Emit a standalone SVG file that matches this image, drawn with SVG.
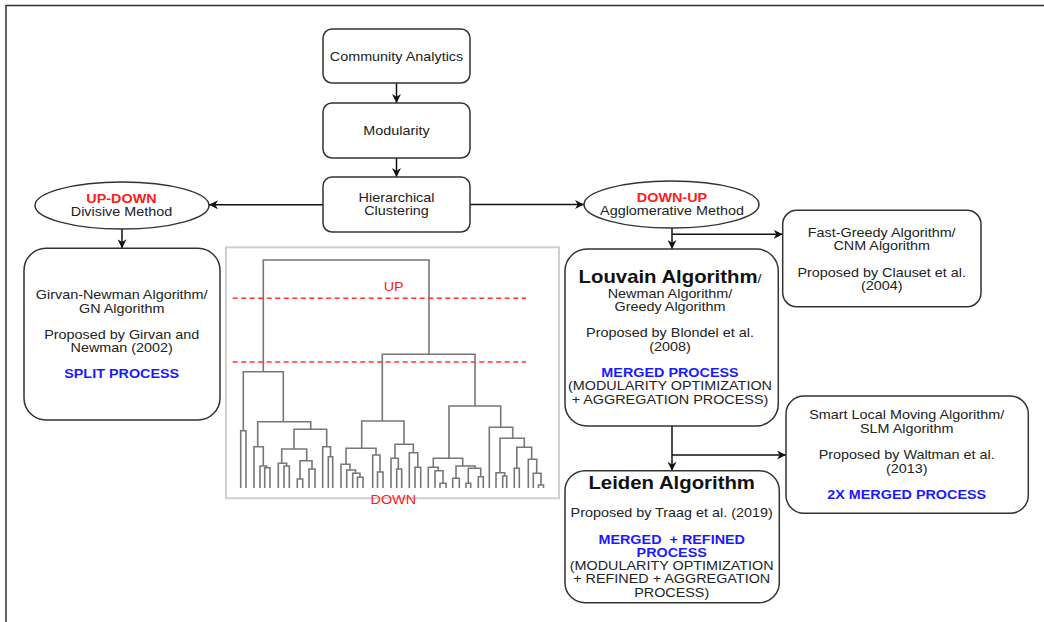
<svg xmlns="http://www.w3.org/2000/svg" width="1044" height="622" viewBox="0 0 1044 622">
<defs>
<marker id="ah" viewBox="0 0 10 10" refX="10" refY="5" markerWidth="9" markerHeight="9" markerUnits="userSpaceOnUse" orient="auto">
<path d="M0,0 L10,5 L0,10 L3,5 z" fill="#111"/>
</marker>
<style>
.box{fill:#fff;stroke:#333;stroke-width:1.5}
.con{fill:none;stroke:#111;stroke-width:1.5}
.t{font-family:"Liberation Sans",Arial,sans-serif;font-size:12.5px;fill:#222;text-anchor:middle}
.b{font-weight:bold}
.red{fill:#ff1a1a}
.blue{fill:#1a1aff}
.pre{white-space:pre}
.title{font-size:17.7px;font-weight:bold;fill:#111}
.dend{fill:none;stroke:#777;stroke-width:1.6}
.cut{fill:none;stroke:#ff3333;stroke-width:1.5;stroke-dasharray:5,3.5}
</style>
</defs>
<rect width="1044" height="622" fill="#fff"/>
<rect x="6" y="5.5" width="1100" height="700" fill="none" stroke="#333" stroke-width="1.5"/>

<g id="connectors">
<path class="con" d="M396.5 83 V103" marker-end="url(#ah)"/>
<path class="con" d="M396.5 158 V177" marker-end="url(#ah)"/>
<path class="con" d="M323 204.8 H209" marker-end="url(#ah)"/>
<path class="con" d="M470 204.5 H584" marker-end="url(#ah)"/>
<path class="con" d="M122 229 V248.3" marker-end="url(#ah)"/>
<path class="con" d="M672 228 V249" marker-end="url(#ah)"/>
<path class="con" d="M672 234.3 H782.7" marker-end="url(#ah)"/>
<path class="con" d="M672 426 V470.7" marker-end="url(#ah)"/>
<path class="con" d="M672 455 H786" marker-end="url(#ah)"/>
</g>

<g id="community-analytics">
<rect class="box" x="323" y="29" width="147" height="54" rx="9"/>
<text class="t" transform="translate(396.5,0) scale(1.15,1)"><tspan x="0" y="61.2">Community Analytics</tspan></text>
</g>
<g id="modularity">
<rect class="box" x="323" y="103" width="147" height="55" rx="9"/>
<text class="t" transform="translate(396.5,0) scale(1.15,1)"><tspan x="0" y="135.2">Modularity</tspan></text>
</g>
<g id="hierarchical-clustering">
<rect class="box" x="323" y="177" width="147" height="55" rx="9"/>
<text class="t" transform="translate(396.5,0) scale(1.15,1)"><tspan x="0" y="202.2">Hierarchical</tspan><tspan x="0" y="215.5">Clustering</tspan></text>
</g>

<g id="up-down">
<ellipse class="box" cx="122" cy="205.5" rx="87" ry="23.5"/>
<text class="t" transform="translate(121.5,0) scale(1.15,1)"><tspan x="0" y="203.2" class="b red">UP-DOWN</tspan><tspan x="0" y="215.8">Divisive Method</tspan></text>
</g>
<g id="down-up">
<ellipse class="box" cx="671.5" cy="204.5" rx="87.5" ry="23.5"/>
<text class="t" transform="translate(672,0) scale(1.15,1)"><tspan x="0" y="202.2" class="b red">DOWN-UP</tspan><tspan x="0" y="215.5">Agglomerative Method</tspan></text>
</g>

<g id="girvan-newman">
<rect class="box" x="24" y="248.3" width="196" height="171.7" rx="22"/>
<text class="t" transform="translate(121.7,0) scale(1.15,1)"><tspan x="0" y="298.8">Girvan-Newman Algorithm/</tspan><tspan x="0" y="312.8">GN Algorithm</tspan><tspan x="0" y="338.8">Proposed by Girvan and</tspan><tspan x="0" y="352.2">Newman (2002)</tspan><tspan x="0" y="378.5" class="b blue">SPLIT PROCESS</tspan></text>
</g>

<g id="louvain">
<rect class="box" x="565" y="249" width="213.3" height="177" rx="22"/>
<text class="t" transform="translate(670,0) scale(1.15,1)"><tspan x="0" y="283.5"><tspan class="title">Louvain Algorithm</tspan>/</tspan><tspan x="0" y="297.8">Newman Algorithm/</tspan><tspan x="0" y="311.2">Greedy Algorithm</tspan><tspan x="0" y="337.2">Proposed by Blondel et al.</tspan><tspan x="0" y="351.2">(2008)</tspan><tspan x="0" y="376.8" class="b blue">MERGED PROCESS</tspan><tspan x="0" y="390.5">(MODULARITY OPTIMIZATION</tspan><tspan x="0" y="403.8">+ AGGREGATION PROCESS)</tspan></text>
</g>

<g id="leiden">
<rect class="box" x="565" y="470.7" width="214.3" height="132" rx="20"/>
<text class="t" transform="translate(671.7,0) scale(1.15,1)"><tspan x="0" y="489.5" class="title">Leiden Algorithm</tspan><tspan x="0" y="517.2">Proposed by Traag et al. (2019)</tspan><tspan x="0" y="543.8" class="b blue pre">MERGED  + REFINED</tspan><tspan x="0" y="557.2" class="b blue">PROCESS</tspan><tspan x="0" y="570.2">(MODULARITY OPTIMIZATION</tspan><tspan x="0" y="583.5">+ REFINED + AGGREGATION</tspan><tspan x="0" y="596.8">PROCESS)</tspan></text>
</g>

<g id="fast-greedy">
<rect class="box" x="782.7" y="210.3" width="198.3" height="96.4" rx="14"/>
<text class="t" transform="translate(881.7,0) scale(1.15,1)"><tspan x="0" y="236.8">Fast-Greedy Algorithm/</tspan><tspan x="0" y="250.2">CNM Algorithm</tspan><tspan x="0" y="277.2">Proposed by Clauset et al.</tspan><tspan x="0" y="290.5">(2004)</tspan></text>
</g>

<g id="slm">
<rect class="box" x="786" y="396" width="242.3" height="117.3" rx="18"/>
<text class="t" transform="translate(906.7,0) scale(1.15,1)"><tspan x="0" y="419.5">Smart Local Moving Algorithm/</tspan><tspan x="0" y="432.8">SLM Algorithm</tspan><tspan x="0" y="459.5">Proposed by Waltman et al.</tspan><tspan x="0" y="472.8">(2013)</tspan><tspan x="0" y="499.5" class="b blue">2X MERGED PROCESS</tspan></text>
</g>

<g id="dendrogram">
<rect x="226" y="247.3" width="333" height="251" fill="#fff" stroke="#cfcfcf" stroke-width="2"/>
<path class="dend" d="
M263.3 371.7 V260 H429 V354.3
M382.3 421 V354.3 H475 V406
M243.3 430.7 V371.7 H283.3 V421.7
M240.7 488 V430.7 H246 V488
M257.7 446.7 V421.7 H310.7 V429.3
M254 488 V446.7 H263.3 V466
M260 488 V466 H266.7 V467.7
M264.7 488 V467.7 H270 V488
M294 449 V429.3 H326.7 V446.7
M281.7 463.3 V449 H306.7 V460.7
M278.3 488 V463.3 H286.7 V466
M284 488 V466 H289.3 V488
M300 479 V460.7 H312 V469
M297.3 488 V479 H302.7 V488
M309 488 V469 H315 V488
M322.7 488 V446.7 H330.5 V456.7
M328.3 488 V456.7 H332.7 V488
M361.7 448.3 V421 H404 V444.3
M346 464.3 V448.3 H376 V455
M341 488 V464.3 H350 V470
M346.7 488 V470 H355.5 V473.3
M352.7 488 V473.3 H360 V477.3
M357.5 488 V477.3 H363 V488
M372.7 488 V455 H380 V472
M377.5 488 V472 H383 V488
M395 458.3 V444.3 H413.3 V452.7
M391 488 V458.3 H398.3 V469
M396.7 488 V469 H401.7 V488
M409.3 488 V452.7 H417.8 V467.3
M415 488 V467.3 H420.7 V488
M449 458.3 V406 H500.7 V427.3
M433.3 467.3 V458.3 H462.7 V466
M428.3 488 V467.3 H438.3 V470.7
M435 488 V470.7 H443 V483.3
M440 488 V483.3 H446 V488
M456 478.3 V466 H475 V468.3
M452.7 488 V478.3 H459.3 V488
M468.3 483.3 V468.3 H480.7 V476.7
M466 488 V483.3 H470.7 V488
M478.3 488 V476.7 H483.3 V488
M489.3 488 V427.3 H512.7 V438.3
M500 472.7 V438.3 H524.3 V447.3
M496 488 V472.7 H504.7 V476
M502.7 488 V476 H506.7 V488
M516.8 468.3 V447.3 H531.7 V459.3
M514.3 488 V468.3 H519.3 V488
M528.3 488 V459.3 H536.7 V473.3
M533.3 488 V473.3 H541 V485
M538.5 488 V485 H543.5 V488
"/>
<path class="cut" d="M232.7 298.3 H526 M232.7 362 H526"/>
<text class="t red" transform="translate(393.7,0) scale(1.15,1)"><tspan x="0" y="291.2">UP</tspan></text>
<text class="t red" transform="translate(393.3,0) scale(1.15,1)"><tspan x="0" y="503.8">DOWN</tspan></text>
</g>
</svg>
